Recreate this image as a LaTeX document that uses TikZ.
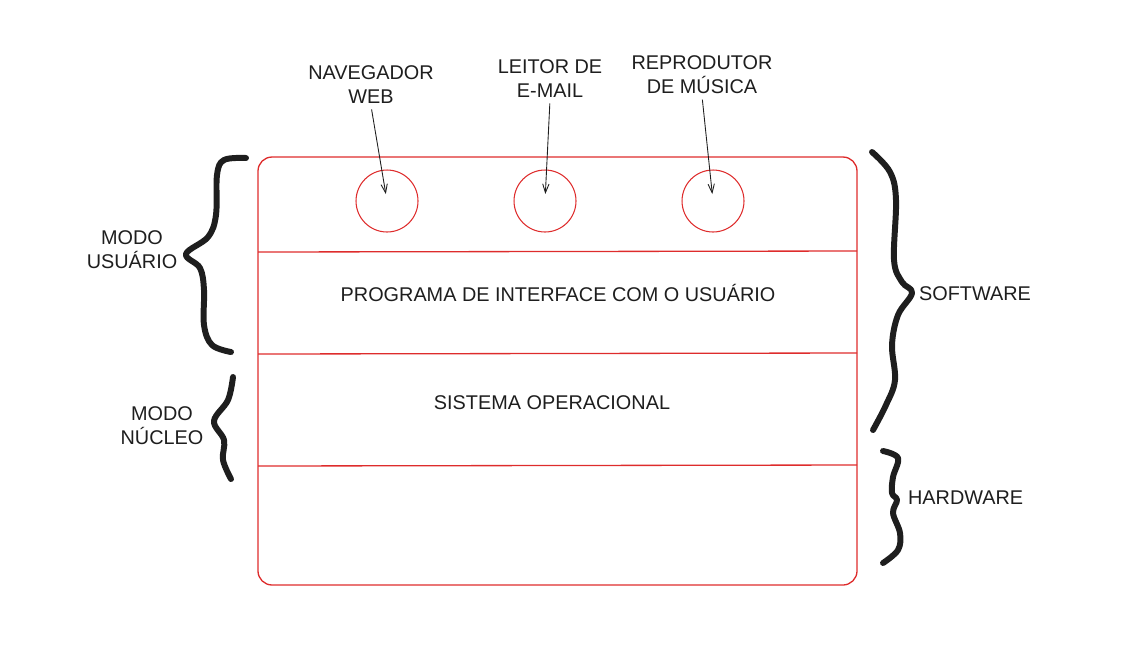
\documentclass[tikz,border=0pt]{standalone}
\usepackage{fontspec}
\setmainfont{Liberation Sans}
\usepackage{tikz}
\usetikzlibrary{arrows.meta}
\usetikzlibrary{calc}
\definecolor{boxred}{RGB}{222,44,44}
\definecolor{inkblack}{RGB}{30,30,30}

\begin{document}
\begin{tikzpicture}[x=0.02cm, y=-0.02cm,
        app_style/.style={circle,draw=boxred,line width=0.6pt,minimum size=1.24cm,inner sep=0pt},
        label_style/.style={align=center,font=\fontsize{11.3}{13.6}\selectfont,text=inkblack,inner sep=1pt},
        layer_style/.style={font=\fontsize{11.3}{13.6}\selectfont,text=inkblack},
        line_style/.style={draw=boxred,line width=0.75pt},
        arrow_style/.style={draw=inkblack,line width=0.5pt,-{Straight Barb[length=5pt,width=3.6pt]},shorten <=2pt,shorten >=4pt},
        brace_style/.style={draw=inkblack,line width=3.4pt,line cap=round,line join=round}]

        \useasboundingbox (0,0) rectangle (1124,667);

        \draw [line_style, rounded corners=8] (258,157) rectangle (857,585);
        \draw [line_style] (258,252) -- (857,251);
        \draw [line_style] (258,354) -- (857,353);
        \draw [line_style] (258,466) -- (857,465);

        \node [app_style](c1) at (387,201) {};
        \node [app_style](c2) at (545,201) {};
        \node [app_style](c3) at (713,201) {};

        \node [label_style](l1) at (371,85) {NAVEGADOR\\WEB};
        \node [label_style](l2) at (550,79) {LEITOR DE\\E-MAIL};
        \node [label_style](l3) at (702,75) {REPRODUTOR\\DE MÚSICA};

        \draw [arrow_style] (l1.south) -- (c1.center);
        \draw [arrow_style] (l2.south) -- (c2.center);
        \draw [arrow_style] (l3.south) -- (c3.center);

        \node [layer_style](ui) at (558,293) {PROGRAMA DE INTERFACE COM O USUÁRIO};
        \node [layer_style](os) at (552,403) {SISTEMA OPERACIONAL};

        \node [label_style](user) at (132,250) {MODO\\USUÁRIO};
        \node [label_style](kern) at (162,426) {MODO\\NÚCLEO};
        \node [label_style, anchor=west](sw) at (917,294) {SOFTWARE};
        \node [label_style, anchor=west](hw) at (906,498) {HARDWARE};

        % hand drawn braces
        \draw [brace_style] plot [smooth, tension=0.6] coordinates {(246,158) (224,160) (217,175) (216,215) (208,237) (186,254) (200,268) (204,290) (204,325) (212,345) (231,352)};
        \draw [brace_style] plot [smooth, tension=0.6] coordinates {(233,377) (228,400) (214,421) (224,440) (223,460) (231,479)};
        \draw [brace_style] plot [smooth, tension=0.6] coordinates {(872,152) (890,172) (896,200) (894,260) (902,282) (912,293) (898,315) (892,345) (895,380) (886,405) (873,430)};
        \draw [brace_style] plot [smooth, tension=0.6] coordinates {(883,451) (898,458) (893,477) (892,493) (897,500) (893,513) (900,533) (898,550) (883,563)};

        \end{tikzpicture}
\end{document}
